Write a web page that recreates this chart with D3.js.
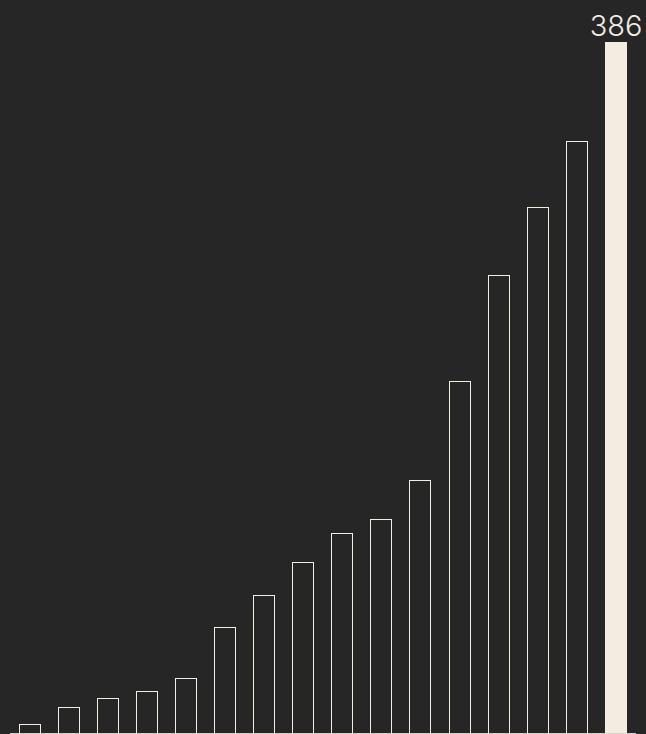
<!DOCTYPE html>
<html>
<head>
<meta charset="utf-8">
<script src="https://cdn.jsdelivr.net/npm/d3@7"></script>
<style>
  html, body { margin: 0; padding: 0; background: #262626; }
  svg { display: block; }
</style>
</head>
<body>
<svg id="chart" width="646" height="734"></svg>
<script>
const categories = ["1","2","3","4","5","6","7","8","9","10","11","12","13","14","15","16"];
const values = [5, 14.5, 19.7, 23.6, 30.6, 59.4, 77.3, 95.6, 111.6, 119.6, 141.4, 196.9, 255.8, 293.8, 331, 386];
const highlightIndex = 15;
const highlightLabel = "386";

const W = 646, H = 734;
const cream = "#f3ece0";
const svg = d3.select("#chart");
svg.append("rect").attr("width", W).attr("height", H).attr("fill", "#262626");

const x = d3.scaleBand().domain(categories).range([10, 636]).paddingInner(0.425).paddingOuter(0.22);
const y = d3.scaleLinear().domain([0, d3.max(values)]).range([733, 42.3]);

const data = categories.map((c, i) => ({ c, v: values[i], i }));

svg.selectAll("rect.bar").data(data).join("rect")
  .attr("class", "bar")
  .attr("x", d => Math.round(x(d.c)) + 0.5)
  .attr("y", d => Math.round(y(d.v)) + 0.5)
  .attr("width", d => Math.round(x.bandwidth()) - 1)
  .attr("height", d => 733 - Math.round(y(d.v)))
  .attr("fill", d => d.i === highlightIndex ? cream : "none")
  .attr("stroke", cream)
  .attr("stroke-width", 1);

// baseline
svg.append("line")
  .attr("x1", 10).attr("x2", 636)
  .attr("y1", 733.5).attr("y2", 733.5)
  .attr("stroke", "#d8d3ca").attr("stroke-width", 1);

// label
const hd = data[highlightIndex];
svg.append("text")
  .attr("x", x(hd.c) + x.bandwidth() / 2)
  .attr("y", y(hd.v) - 6)
  .attr("text-anchor", "middle")
  .attr("fill", cream)
  .attr("font-family", "Inter, 'Noto Sans', sans-serif")
  .attr("font-weight", 300)
  .attr("font-size", 29)
  .text(highlightLabel);
</script>
</body>
</html>
